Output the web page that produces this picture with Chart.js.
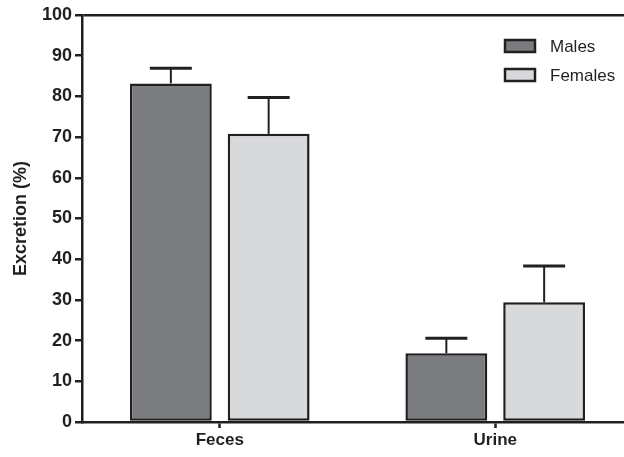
<!DOCTYPE html>
<html>
<head>
<meta charset="utf-8">
<script src="https://cdn.jsdelivr.net/npm/chart.js@4/dist/chart.umd.min.js"></script>
<style>
  html, body { margin: 0; padding: 0; background: #fff; overflow: hidden; }
  #wrap { position: relative; width: 640px; height: 457px; }
</style>
</head>
<body>
<div id="wrap"><canvas id="c"></canvas></div>
<script>
const categories = ['Feces', 'Urine'];
const seriesNames = ['Males', 'Females'];
const malesMean = [83.2, 16.9];
const malesErr = [3.7, 3.7];
const femalesMean = [70.8, 29.4];
const femalesErr = [8.9, 8.9];
const yTicks = [0, 10, 20, 30, 40, 50, 60, 70, 80, 90, 100];

const INK = '#231f20';
const FONT = 'Arial, "Liberation Sans", Helvetica, sans-serif';

const errorBars = {
  id: 'errorBars',
  afterDatasetsDraw(chart) {
    const ctx = chart.ctx;
    const y = chart.scales.y;
    chart.data.datasets.forEach((ds, di) => {
      const meta = chart.getDatasetMeta(di);
      meta.data.forEach((bar, i) => {
        const v = ds.data[i], e = ds.errors[i];
        const yTop = y.getPixelForValue(v + e);
        const yBar = y.getPixelForValue(v);
        ctx.save();
        ctx.strokeStyle = INK;
        ctx.lineWidth = 2;
        ctx.beginPath();
        ctx.moveTo(bar.x, yBar);
        ctx.lineTo(bar.x, yTop);
        ctx.stroke();
        ctx.lineWidth = 3;
        ctx.beginPath();
        ctx.moveTo(bar.x - 21, yTop);
        ctx.lineTo(bar.x + 21, yTop);
        ctx.stroke();
        ctx.restore();
      });
    });
  }
};

const customLegend = {
  id: 'customLegend',
  afterDraw(chart) {
    const ctx = chart.ctx;
    const x0 = 505, rows = [46, 75];
    chart.data.datasets.forEach((ds, i) => {
      const cy = rows[i];
      ctx.save();
      ctx.fillStyle = ds.backgroundColor;
      ctx.strokeStyle = INK;
      ctx.lineWidth = 2.5;
      ctx.fillRect(x0, cy - 6, 30, 12);
      ctx.strokeRect(x0, cy - 6, 30, 12);
      ctx.fillStyle = INK;
      ctx.font = '17px ' + FONT;
      ctx.textBaseline = 'middle';
      ctx.textAlign = 'left';
      ctx.fillText(ds.label, 550, cy + 1);
      ctx.restore();
    });
  }
};

new Chart(document.getElementById('c'), {
  type: 'bar',
  data: {
    labels: categories,
    datasets: [
      { label: seriesNames[0], data: malesMean, errors: malesErr,
        backgroundColor: '#7b7c80', borderColor: INK, borderWidth: 2.5, borderSkipped: false },
      { label: seriesNames[1], data: femalesMean, errors: femalesErr,
        backgroundColor: '#d8d9db', borderColor: INK, borderWidth: 2.5, borderSkipped: false }
    ]
  },
  options: {
    responsive: true,
    maintainAspectRatio: false,
    animation: false,
    layout: { padding: { top: 15, right: 7, left: 0, bottom: 0 } },
    datasets: { bar: { categoryPercentage: 0.71, barPercentage: 0.837 } },
    plugins: { legend: { display: false }, tooltip: { enabled: false } },
    scales: {
      x: {
        afterFit(s) { s.height = 35; },
        border: { color: INK, width: 2.5 },
        grid: { offset: false, color: 'rgba(0,0,0,0)', tickColor: INK, tickLength: 6, tickWidth: 2.5, drawOnChartArea: false },
        ticks: { color: INK, padding: 2, font: { family: FONT, size: 17, weight: 'bold' } }
      },
      y: {
        min: 0, max: 100,
        afterFit(s) { s.width = 82; },
        afterBuildTicks(s) { s.ticks = yTicks.map(v => ({ value: v })); },
        border: { color: INK, width: 2.5 },
        grid: {
          color: c => (c.tick && c.tick.value === 100) ? INK : 'rgba(0,0,0,0)',
          tickColor: INK, tickLength: 7, tickWidth: 2.5, lineWidth: 2.5
        },
        ticks: { color: INK, padding: 3, font: { family: FONT, size: 18, weight: 'bold' } },
        title: { display: true, text: 'Excretion (%)', color: INK, padding: { top: 10, bottom: 0 },
                 font: { family: FONT, size: 18, weight: 'bold' } }
      }
    }
  },
  plugins: [errorBars, customLegend]
});
</script>
</body>
</html>
